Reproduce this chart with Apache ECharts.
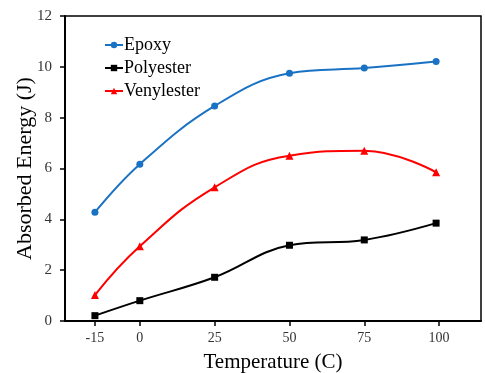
<!DOCTYPE html>
<html>
<head>
<meta charset="utf-8">
<script src="https://cdn.jsdelivr.net/npm/echarts@6/dist/echarts.min.js"></script>
<style>
    html, body { margin: 0; padding: 0; background: #fff; }
    #main { width: 485px; height: 373px; }
</style>
</head>
<body>
<div id="main"></div>
<script>
// temperatures (C) and absorbed energy (J)
var temps = [-15, 0, 25, 50, 75, 99];
var xTicks = [-15, 0, 25, 50, 75, 100];
var epoxy = [4.28, 6.17, 8.46, 9.75, 9.95, 10.21];
var polyester = [0.21, 0.80, 1.72, 2.98, 3.19, 3.85];
var venylester = [1.02, 2.94, 5.26, 6.50, 6.70, 5.85];

function pairs(vals) {
    var out = [];
    for (var i = 0; i < temps.length; i++) {
        out.push([temps[i], vals[i]]);
    }
    return out;
}

var font = 'Liberation Serif, Times New Roman, serif';
var myChart = echarts.init(document.getElementById('main'));

var option = {
    animation: false,
    textStyle: { fontFamily: font },
    grid: {
        left: 65, top: 16, right: 4, bottom: 52,
        outerBoundsMode: 'none',
        show: true, borderColor: '#000', borderWidth: 1.5
    },
    legend: {
        orient: 'vertical',
        left: 99, top: 31,
        itemWidth: 18, itemHeight: 8, itemGap: 5,
        textStyle: { fontFamily: font, fontSize: 18, lineHeight: 18, color: '#000', padding: [0, 0, 0, -4] },
        data: ['Epoxy', 'Polyester', 'Venylester']
    },
    xAxis: {
        type: 'value',
        min: -25, max: 114,
        name: 'Temperature (C)',
        nameLocation: 'middle',
        nameGap: 31,
        nameMoveOverlap: false,
        nameTextStyle: { fontFamily: font, fontSize: 21, color: '#000' },
        splitLine: { show: false },
        axisLine: { onZero: false, lineStyle: { color: '#000', width: 2 } },
        axisTick: { show: true, length: 5, lineStyle: { color: '#000', width: 1.5 }, customValues: xTicks },
        axisLabel: { fontFamily: font, fontSize: 14, color: '#333', margin: 10, customValues: xTicks }
    },
    yAxis: {
        type: 'value',
        min: 0, max: 12, interval: 2,
        name: 'Absorbed Energy (J)',
        nameLocation: 'middle',
        nameGap: 29,
        nameMoveOverlap: false,
        nameTextStyle: { fontFamily: font, fontSize: 22, color: '#000' },
        splitLine: { show: false },
        axisLine: { show: true, onZero: false, lineStyle: { color: '#000', width: 2 } },
        axisTick: { show: true, length: 5, lineStyle: { color: '#000', width: 1.5 } },
        axisLabel: { fontFamily: font, fontSize: 15, color: '#333', margin: 13 }
    },
    series: [
        {
            name: 'Epoxy', type: 'line', smooth: 0.4,
            symbol: 'circle', symbolSize: 7,
            itemStyle: { color: '#1a72c4' },
            lineStyle: { width: 2 },
            data: pairs(epoxy)
        },
        {
            name: 'Polyester', type: 'line', smooth: 0.4,
            symbol: 'rect', symbolSize: 7,
            itemStyle: { color: '#000' },
            lineStyle: { width: 2 },
            data: pairs(polyester)
        },
        {
            name: 'Venylester', type: 'line', smooth: 0.45,
            symbol: 'triangle', symbolSize: 8,
            itemStyle: { color: '#ff0000' },
            lineStyle: { width: 2 },
            data: pairs(venylester)
        }
    ]
};

option && myChart.setOption(option);
</script>
</body>
</html>
